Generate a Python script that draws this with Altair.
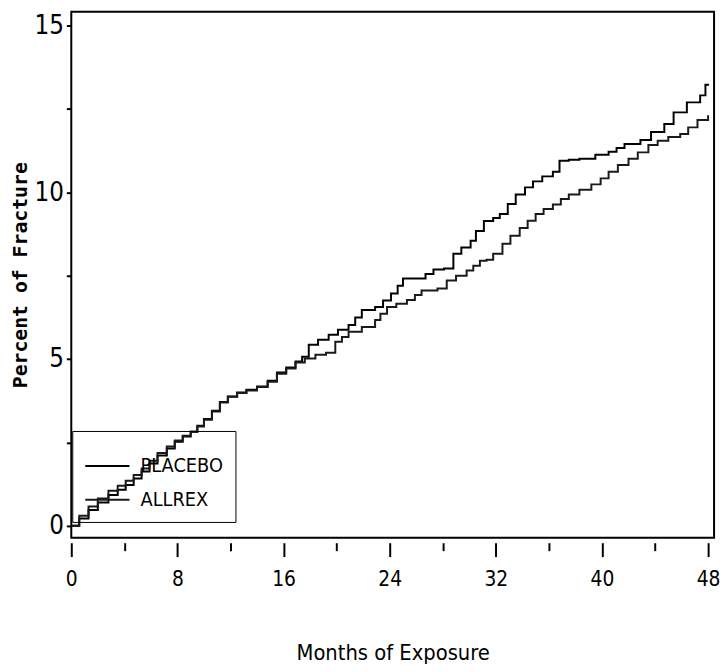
import altair as alt
import pandas as pd

# ---- data ----
series_names = ["PLACEBO", "ALLREX"]

months_placebo = [0, 0.6, 1.3, 2.0, 2.8, 3.5, 4.1, 4.7, 5.3, 5.9,
                  6.5, 7.2, 7.8, 8.4, 9.0, 9.5, 10.0, 10.6, 11.2, 11.8,
                  12.5, 13.2, 14.0, 14.8, 15.5, 16.2, 16.9, 17.4, 17.9, 18.6,
                  19.4, 20.1, 20.9, 21.4, 21.9, 22.9, 23.5, 24.1, 24.6, 25.0,
                  26.1, 26.7, 27.3, 28.1, 28.8, 29.4, 30.1, 30.5, 31.1, 31.8,
                  32.3, 32.9, 33.5, 34.2, 34.8, 35.5, 36.3, 36.8, 37.5, 38.3,
                  39.5, 40.5, 41.1, 41.7, 42.9, 43.7, 44.7, 45.4, 46.4, 47.4,
                  47.8, 48.0]
values_placebo = [0, 0.22, 0.47, 0.7, 0.92, 1.08, 1.22, 1.42, 1.63, 1.87,
                  2.11, 2.32, 2.52, 2.68, 2.82, 3.0, 3.2, 3.45, 3.71, 3.88,
                  4.0, 4.08, 4.18, 4.35, 4.6, 4.75, 4.93, 5.07, 5.43, 5.58,
                  5.73, 5.88, 6.02, 6.25, 6.47, 6.56, 6.76, 6.97, 7.2, 7.42,
                  7.42, 7.55, 7.69, 7.72, 8.16, 8.35, 8.55, 8.84, 9.14, 9.23,
                  9.35, 9.65, 9.94, 10.15, 10.33, 10.48, 10.62, 10.95, 10.98, 11.01,
                  11.13, 11.22, 11.33, 11.45, 11.57, 11.81, 12.05, 12.4, 12.7, 12.91,
                  13.23, 13.26]

months_allrex = [0, 0.6, 1.3, 2.0, 2.8, 3.5, 4.1, 4.7, 5.3, 5.9,
                 6.5, 7.2, 7.8, 8.4, 9.0, 9.5, 10.0, 10.6, 11.2, 11.8,
                 12.5, 13.2, 14.0, 14.8, 15.5, 16.2, 16.9, 17.6, 18.4, 19.2,
                 19.9, 20.4, 20.9, 21.9, 22.9, 23.3, 23.8, 24.5, 25.3, 25.9,
                 26.4, 27.6, 28.3, 29.0, 29.8, 30.3, 30.8, 31.3, 31.8, 32.5,
                 33.1, 33.8, 34.4, 35.0, 35.6, 36.3, 36.9, 37.5, 38.3, 39.2,
                 39.9, 40.5, 41.2, 42.0, 42.7, 43.5, 44.2, 45.0, 45.9, 46.5,
                 47.2, 48.0]
values_allrex = [0, 0.3, 0.58, 0.82, 1.05, 1.2, 1.35, 1.52, 1.72, 1.95,
                 2.18, 2.38, 2.56, 2.7, 2.82, 2.98, 3.18, 3.43, 3.7, 3.87,
                 3.98, 4.06, 4.16, 4.32, 4.56, 4.72, 4.9, 5.02, 5.13, 5.19,
                 5.52, 5.66, 5.82, 5.96, 6.17, 6.36, 6.56, 6.66, 6.77, 6.92,
                 7.06, 7.12, 7.36, 7.5, 7.66, 7.8, 7.95, 7.98, 8.16, 8.46,
                 8.7, 8.93, 9.15, 9.35, 9.5, 9.64, 9.8, 9.94, 10.08, 10.24,
                 10.42, 10.62, 10.82, 11.01, 11.2, 11.42, 11.55, 11.66, 11.75, 11.95,
                 12.17, 12.31]

x_ticks = [0, 4, 8, 12, 16, 20, 24, 28, 32, 36, 40, 44, 48]
y_ticks = [0, 2.5, 5, 7.5, 10, 12.5, 15]

df = pd.concat([
    pd.DataFrame({"month": months_placebo, "pct": values_placebo, "series": series_names[0]}),
    pd.DataFrame({"month": months_allrex, "pct": values_allrex, "series": series_names[1]}),
])

NARROW = "DejaVu Sans Condensed, Liberation Sans Narrow, sans-serif"

chart = alt.Chart(df).mark_line(interpolate="step-after", strokeWidth=2).encode(
    x=alt.X("month:Q",
            scale=alt.Scale(domain=[0, 48.45], nice=False, zero=False),
            axis=alt.Axis(values=x_ticks, title="Months of Exposure",
                          labelExpr="datum.value % 8 == 0 ? datum.label : ''",
                          domain=False, grid=False, offset=5, labelFlush=False,
                          tickSize={"condition": {"test": "datum.value % 8 == 0", "value": 14},
                                    "value": 8},
                          tickWidth=2, tickColor="black",
                          labelFont=NARROW, labelFontSize=21, labelColor="black",
                          labelPadding=12,
                          titleFont=NARROW, titleFontSize=22, titleFontWeight="normal",
                          titleColor="black", titlePadding=54)),
    y=alt.Y("pct:Q",
            scale=alt.Scale(domain=[-0.36, 15.42], nice=False, zero=False),
            axis=alt.Axis(values=y_ticks, title="Percent of Fracture",
                          labelExpr="datum.value % 5 == 0 ? datum.label : ''",
                          domain=False, grid=False, labelFlush=False,
                          tickSize=5, tickWidth=2, tickColor="black",
                          labelFont=NARROW, labelFontSize=26, labelColor="black",
                          labelPadding=3,
                          titleFont="DejaVu Sans Mono", titleFontSize=20,
                          titleFontWeight="bold", titleColor="black",
                          titlePadding=4)),
    color=alt.Color("series:N",
                    scale=alt.Scale(domain=series_names, range=["black", "#1a1a1a"]),
                    sort=series_names,
                    legend=alt.Legend(title=None, orient="none", legendX=1, legendY=424,
                                      padding=12, strokeColor="black",
                                      symbolType="stroke", symbolSize=2000,
                                      symbolStrokeWidth=2, rowPadding=-13,
                                      labelOffset=10, labelFont=NARROW,
                                      labelFontSize=20, labelColor="black",
                                      labelLimit=200)),
).properties(
    width=650, height=532,
    background="white",
    autosize=alt.AutoSizeParams(type="none"),
    padding={"left": 64, "top": 0, "right": 6, "bottom": 132},
).configure_view(
    stroke="black", strokeWidth=2, fill="white"
)

chart.save("out.html", embed_options={"renderer": "svg", "actions": False})
